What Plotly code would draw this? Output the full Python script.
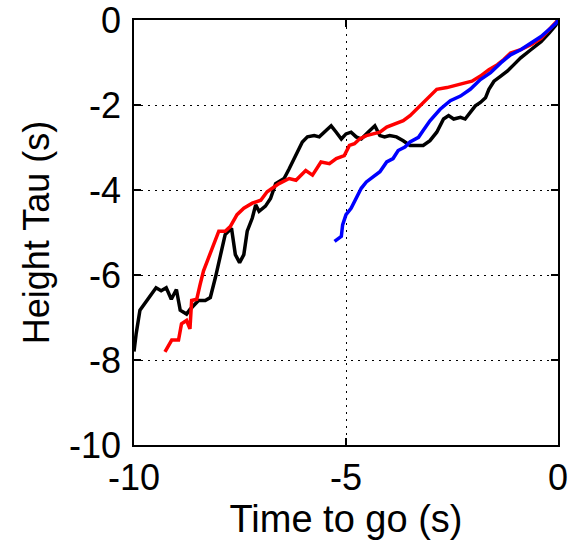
import plotly.graph_objects as go

black_x = [-10.0, -9.95, -9.86, -9.75, -9.6, -9.48, -9.36, -9.24, -9.12, -9.0, -8.91, -8.76, -8.68,
           -8.48, -8.32, -8.2, -8.08, -7.96, -7.85, -7.7, -7.61, -7.51, -7.41, -7.33, -7.21, -7.13,
           -7.05, -6.9, -6.78, -6.66, -6.46, -6.34, -6.18, -6.03, -5.91, -5.75, -5.63, -5.51, -5.35,
           -5.23, -5.11, -5.0, -4.88, -4.76, -4.64, -4.48, -4.32, -4.2, -4.09, -3.97, -3.81, -3.65,
           -3.49, -3.29, -3.18, -3.02, -2.86, -2.7, -2.58, -2.46, -2.3, -2.19, -2.07, -1.95, -1.83,
           -1.71, -1.63, -1.51, -1.35, -1.19, -1.04, -0.88, -0.64, -0.4, -0.21, -0.05, 0.0]
black_y = [-7.8, -7.39, -6.83, -6.68, -6.48, -6.3, -6.37, -6.3, -6.57, -6.34, -6.83, -6.92, -6.81,
           -6.6, -6.6, -6.53, -6.06, -5.52, -5.05, -4.9, -5.52, -5.71, -5.52, -4.97, -4.66, -4.35,
           -4.5, -4.38, -4.2, -3.85, -3.73, -3.5, -3.19, -2.87, -2.75, -2.72, -2.75, -2.64, -2.49,
           -2.64, -2.8, -2.68, -2.64, -2.75, -2.8, -2.64, -2.49, -2.72, -2.75, -2.72, -2.75, -2.84,
           -2.95, -2.95, -2.95, -2.84, -2.64, -2.33, -2.25, -2.33, -2.29, -2.33, -2.17, -2.02, -1.94,
           -1.83, -1.63, -1.44, -1.32, -1.2, -1.05, -0.89, -0.7, -0.51, -0.31, -0.12, 0.0]

red_x = [-9.27, -9.11, -8.95, -8.88, -8.76, -8.68, -8.64, -8.52, -8.44, -8.36, -8.24, -8.12, -8.0,
         -7.85, -7.73, -7.57, -7.41, -7.21, -7.01, -6.86, -6.66, -6.58, -6.34, -6.18, -5.95, -5.79,
         -5.59, -5.39, -5.23, -5.04, -4.92, -4.8, -4.68, -4.52, -4.36, -4.2, -4.04, -3.85, -3.65,
         -3.49, -3.25, -3.02, -2.86, -2.62, -2.38, -2.19, -2.03, -1.83, -1.63, -1.43, -1.28, -1.12,
         -0.88, -0.64, -0.4, -0.21, -0.05, 0.0]
red_y = [-7.81, -7.53, -7.53, -7.15, -7.07, -7.27, -6.6, -6.57, -6.22, -5.9, -5.59, -5.28, -4.97,
         -4.97, -4.86, -4.58, -4.43, -4.31, -4.24, -4.04, -3.89, -3.85, -3.73, -3.77, -3.54, -3.65,
         -3.34, -3.38, -3.26, -3.19, -2.95, -2.91, -2.8, -2.72, -2.68, -2.64, -2.52, -2.45, -2.37,
         -2.25, -2.02, -1.79, -1.63, -1.59, -1.52, -1.48, -1.44, -1.32, -1.17, -1.05, -0.93, -0.78,
         -0.7, -0.58, -0.43, -0.23, -0.08, 0.0]

blue_x = [-5.27, -5.11, -5.08, -5.0, -4.88, -4.76, -4.64, -4.52, -4.36, -4.2, -4.04, -3.89, -3.77,
          -3.61, -3.49, -3.29, -3.18, -3.02, -2.78, -2.54, -2.3, -2.07, -1.83, -1.59, -1.35, -1.12,
          -0.88, -0.64, -0.4, -0.17, -0.05, 0.0]
blue_y = [-5.21, -5.09, -4.82, -4.58, -4.43, -4.2, -3.96, -3.81, -3.69, -3.57, -3.34, -3.26, -3.07,
          -2.99, -2.87, -2.76, -2.6, -2.37, -2.1, -1.9, -1.79, -1.63, -1.4, -1.24, -1.01, -0.82,
          -0.7, -0.54, -0.39, -0.19, -0.08, 0.0]

x_ticks = [-10, -5, 0]
y_ticks = [-10, -8, -6, -4, -2, 0]

FONT = "Liberation Sans, Arial, Helvetica, sans-serif"

fig = go.Figure()
fig.add_trace(go.Scatter(x=black_x, y=black_y, mode="lines", line=dict(color="#000000", width=3.5)))
fig.add_trace(go.Scatter(x=red_x, y=red_y, mode="lines", line=dict(color="#ff0000", width=3.5)))
fig.add_trace(go.Scatter(x=blue_x, y=blue_y, mode="lines", line=dict(color="#0000ff", width=3.5)))

axis_common = dict(
    showline=True, linecolor="#000000", linewidth=1.5, mirror="ticks",
    ticks="inside", ticklen=7, tickwidth=1.5, tickcolor="#000000",
    showgrid=True, gridcolor="#000000", gridwidth=1.2, griddash="2px,5px",
    zeroline=False, tickfont=dict(family=FONT, size=36, color="#000000"),
    automargin=False, ticklabeloverflow="allow",
)

fig.update_xaxes(range=[-10, 0], tickvals=x_ticks, ticktext=[str(v) for v in x_ticks],
                 title=dict(text="Time to go (s)", font=dict(family=FONT, size=38, color="#000000"), standoff=6),
                 **axis_common)
fig.update_yaxes(range=[-10, 0], tickvals=y_ticks, ticktext=[str(v) for v in y_ticks],
                 ticklabelstandoff=4,
                 title=dict(text="Height Tau (s)", font=dict(family=FONT, size=36, color="#000000"), standoff=8),
                 **axis_common)

fig.update_layout(
    width=568, height=540,
    margin=dict(l=134, r=10, t=20, b=95),
    paper_bgcolor="#ffffff", plot_bgcolor="#ffffff",
    showlegend=False,
)

fig.write_html("out.html")
